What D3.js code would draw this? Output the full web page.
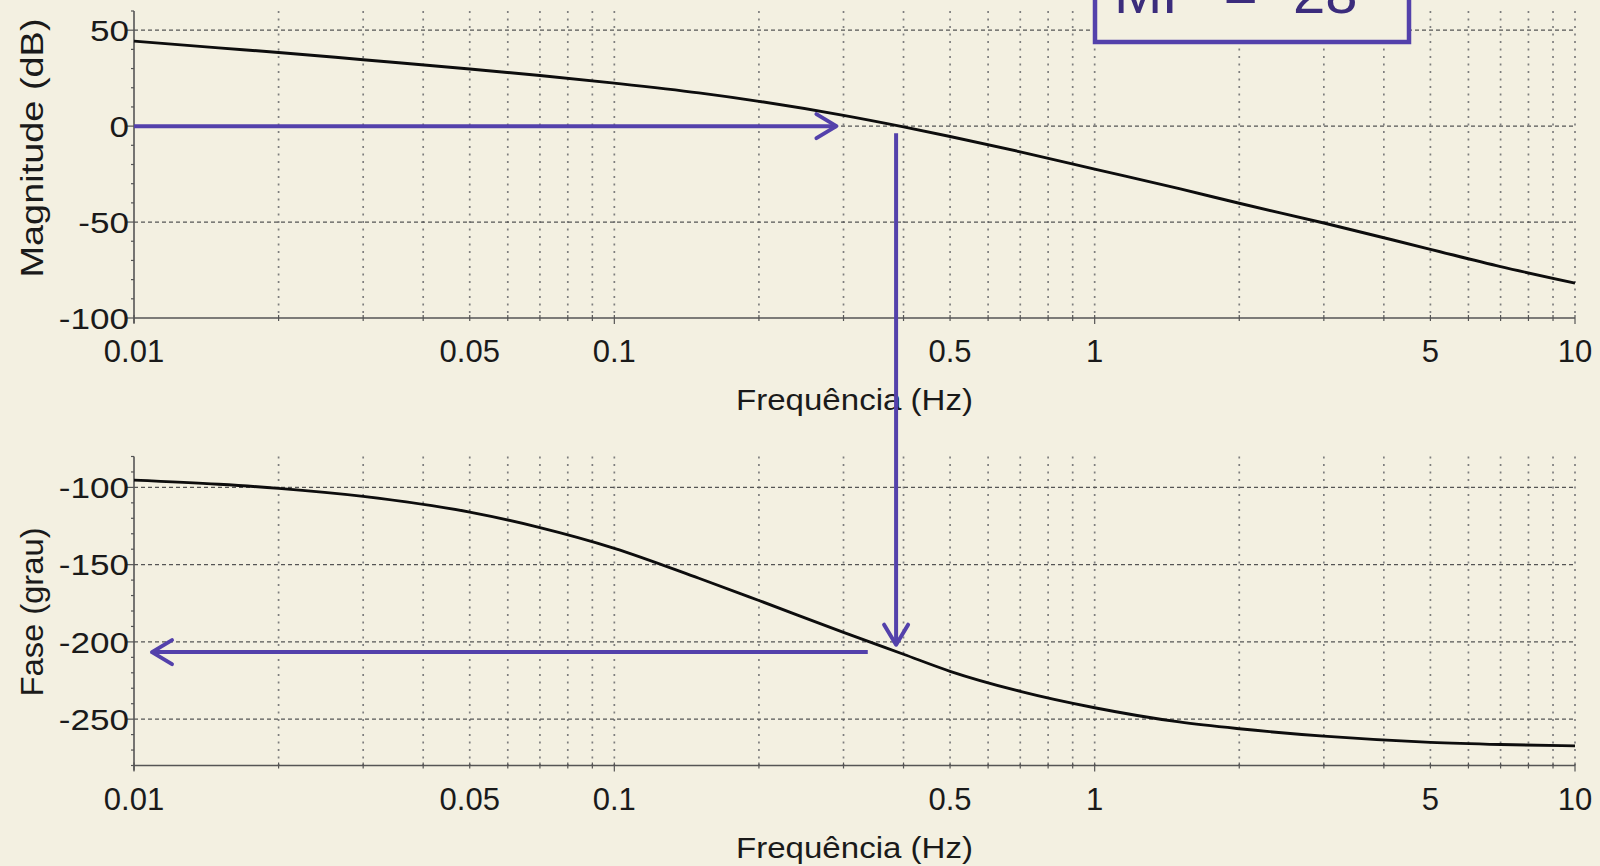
<!DOCTYPE html>
<html>
<head>
<meta charset="utf-8">
<script src="https://cdn.jsdelivr.net/npm/d3@7"></script>
<style>
  html, body { margin: 0; padding: 0; background: #f3f0e1; }
  svg { display: block; font-family: "Liberation Sans", Arial, sans-serif; }
</style>
</head>
<body>
<svg id="chart" width="1600" height="866"></svg>
<script>
// Open-loop frequency response samples
const freqHz   = [0.01, 0.015, 0.02, 0.03, 0.05, 0.07, 0.1, 0.15, 0.2, 0.3, 0.4, 0.5, 0.7, 1, 1.5, 2, 3, 5, 7, 10];
const magDb    = [44.3, 40.8, 38.4, 34.6, 29.8, 26.4, 22.4, 17.3, 12.9, 5.6, -0.4, -5.4, -13.4, -22.4, -32.6, -40.2, -50.5, -64.2, -73.2, -81.8];
const phaseDeg = [-95.3, -98.0, -100.6, -105.8, -116.0, -126.0, -139.4, -158.8, -173.2, -193.8, -208.0, -219.0, -232.0, -242.6, -251.8, -256.2, -261.0, -265.0, -266.4, -267.3];

// Axis ticks and labels
const freqTicks      = [0.01, 0.05, 0.1, 0.5, 1, 5, 10];
const freqTickLabels = ["0.01", "0.05", "0.1", "0.5", "1", "5", "10"];
const magTicks       = [-100, -50, 0, 50];
const phaseTicks     = [-250, -200, -150, -100];

// Gain-crossover reading
const crossoverHz      = 0.386;
const gainArrowEndHz   = 0.29;
const phaseReadStartHz = 0.337;
const phaseReadEndHz   = 0.0109;
const phaseAtCrossover = -206.6;
const phaseArrowTipDeg = -201.8;
const marginName       = "MF";
const marginValue      = "= -28°";

const W = 1600, H = 866;
const BG = "#f3f0e1";
const PURPLE = "#5341ab";

const svg = d3.select("#chart");
svg.append("rect").attr("width", W).attr("height", H).attr("fill", BG);

const x = d3.scaleLog().domain([0.01, 10]).range([134, 1575]);
const yMag = d3.scaleLinear().domain([-100, 60]).range([318, 11]);
const yPh  = d3.scaleLinear().domain([-280, -80]).range([765.5, 456.5]);

function drawPanel(y, yTicks, values, yTitle, yTitleCenter, yTitleLen) {
  const [yBottom, yTop] = y.range();
  const [d0, d1] = y.domain();
  const g = svg.append("g");

  // vertical dotted grid at every 1..9 x decade
  g.selectAll("line.vgrid")
    .data(x.ticks().filter(f => f > 0.0100001))
    .join("line")
    .attr("x1", d => x(d)).attr("x2", d => x(d))
    .attr("y1", yTop).attr("y2", yBottom)
    .attr("stroke", "#7e7e7e").attr("stroke-width", 1.7)
    .attr("stroke-dasharray", "2,5.5");

  // horizontal dashed grid at labelled values
  g.selectAll("line.hgrid")
    .data(yTicks.filter(v => v > d0))
    .join("line")
    .attr("x1", x.range()[0]).attr("x2", x.range()[1])
    .attr("y1", d => y(d)).attr("y2", d => y(d))
    .attr("stroke", "#555").attr("stroke-width", 1.2)
    .attr("stroke-dasharray", "4,3");

  // axes
  g.append("line")
    .attr("x1", x.range()[0]).attr("x2", x.range()[0])
    .attr("y1", yTop).attr("y2", yBottom + 5)
    .attr("stroke", "#555").attr("stroke-width", 1.6);
  g.append("line")
    .attr("x1", x.range()[0]).attr("x2", x.range()[1])
    .attr("y1", yBottom).attr("y2", yBottom)
    .attr("stroke", "#555").attr("stroke-width", 1.6);

  // y minor / major ticks
  g.selectAll("line.ytick")
    .data(d3.range(d0, d1 + 0.001, 10))
    .join("line")
    .attr("x1", d => x.range()[0] - (yTicks.includes(d) ? 7 : 3))
    .attr("x2", x.range()[0])
    .attr("y1", d => y(d)).attr("y2", d => y(d))
    .attr("stroke", "#555").attr("stroke-width", 1.2);

  // x ticks
  g.selectAll("line.xtick")
    .data(x.ticks())
    .join("line")
    .attr("x1", d => x(d)).attr("x2", d => x(d))
    .attr("y1", yBottom - 3)
    .attr("y2", d => yBottom + (Math.abs(Math.log10(d) - Math.round(Math.log10(d))) < 1e-6 ? 6 : 3))
    .attr("stroke", "#555").attr("stroke-width", 1.2);

  // y tick labels (slightly wide face)
  g.selectAll("text.ylab")
    .data(yTicks)
    .join("text")
    .attr("transform", d => `translate(129,${y(d) + 10.8}) scale(1.17,1)`)
    .attr("text-anchor", "end")
    .attr("font-size", 30)
    .attr("fill", "#1a1a1a")
    .text(d => String(d));

  // x tick labels
  g.selectAll("text.xlab")
    .data(freqTicks)
    .join("text")
    .attr("x", d => x(d))
    .attr("y", yBottom + 44)
    .attr("text-anchor", "middle")
    .attr("font-size", 31)
    .attr("fill", "#1a1a1a")
    .text((d, i) => freqTickLabels[i]);

  // x title
  g.append("text")
    .attr("x", (x.range()[0] + x.range()[1]) / 2)
    .attr("y", yBottom + 92)
    .attr("text-anchor", "middle")
    .attr("font-size", 30)
    .attr("textLength", 237)
    .attr("lengthAdjust", "spacingAndGlyphs")
    .attr("fill", "#1a1a1a")
    .text("Frequência (Hz)");

  // y title
  g.append("text")
    .attr("transform", `translate(43,${yTitleCenter}) rotate(-90)`)
    .attr("text-anchor", "middle")
    .attr("font-size", 32)
    .attr("textLength", yTitleLen)
    .attr("lengthAdjust", "spacingAndGlyphs")
    .attr("fill", "#1a1a1a")
    .text(yTitle);

  // response curve
  const line = d3.line()
    .x(d => x(d[0]))
    .y(d => y(d[1]))
    .curve(d3.curveMonotoneX);
  g.append("path")
    .datum(freqHz.map((f, i) => [f, values[i]]))
    .attr("d", line)
    .attr("fill", "none")
    .attr("stroke", "#0d0d0d")
    .attr("stroke-width", 2.9)
    .attr("stroke-linejoin", "round");
}

drawPanel(yMag, magTicks, magDb, "Magnitude (dB)", 148, 259);
drawPanel(yPh, phaseTicks, phaseDeg, "Fase (grau)", 612, 169);

// annotation arrows
const ann = svg.append("g")
  .attr("fill", "none")
  .attr("stroke", PURPLE)
  .attr("stroke-width", 4)
  .attr("stroke-linecap", "round")
  .attr("stroke-linejoin", "round");

function chevron(tipX, tipY, dx, dy) {
  // open arrowhead pointing along (dx, dy)
  const len = 20, half = 12;
  const px = -dy, py = dx;
  return `M${tipX - dx * len + px * half},${tipY - dy * len + py * half}` +
         `L${tipX},${tipY}` +
         `L${tipX - dx * len - px * half},${tipY - dy * len - py * half}`;
}

// 0 dB reading towards crossover
const a1y = yMag(0);
ann.append("line")
  .attr("x1", x(0.01)).attr("x2", x(gainArrowEndHz))
  .attr("y1", a1y).attr("y2", a1y).attr("stroke-linecap", "butt");
ann.append("path").attr("d", chevron(x(gainArrowEndHz), a1y, 1, 0));

// drop from crossover down to phase plot
const a2x = x(crossoverHz);
ann.append("line")
  .attr("x1", a2x).attr("x2", a2x)
  .attr("y1", yMag(0) + 7).attr("y2", yPh(phaseArrowTipDeg))
  .attr("stroke-linecap", "butt");
ann.append("path").attr("d", chevron(a2x, yPh(phaseArrowTipDeg), 0, 1));

// phase reading back to the axis
const a3y = yPh(phaseAtCrossover);
ann.append("line")
  .attr("x1", x(phaseReadStartHz)).attr("x2", x(phaseReadEndHz))
  .attr("y1", a3y).attr("y2", a3y).attr("stroke-linecap", "butt");
ann.append("path").attr("d", chevron(x(phaseReadEndHz), a3y, -1, 0));

// phase-margin box
svg.append("rect")
  .attr("x", 1095).attr("y", -20)
  .attr("width", 314).attr("height", 62)
  .attr("fill", BG)
  .attr("stroke", PURPLE).attr("stroke-width", 4.5);
const mt = svg.append("text")
  .attr("x", 1114).attr("y", 13)
  .attr("font-size", 58)
  .attr("fill", "#3b2c7c");
mt.append("tspan").text(marginName);
mt.append("tspan").attr("dx", 26).text(marginValue);
</script>
</body>
</html>
